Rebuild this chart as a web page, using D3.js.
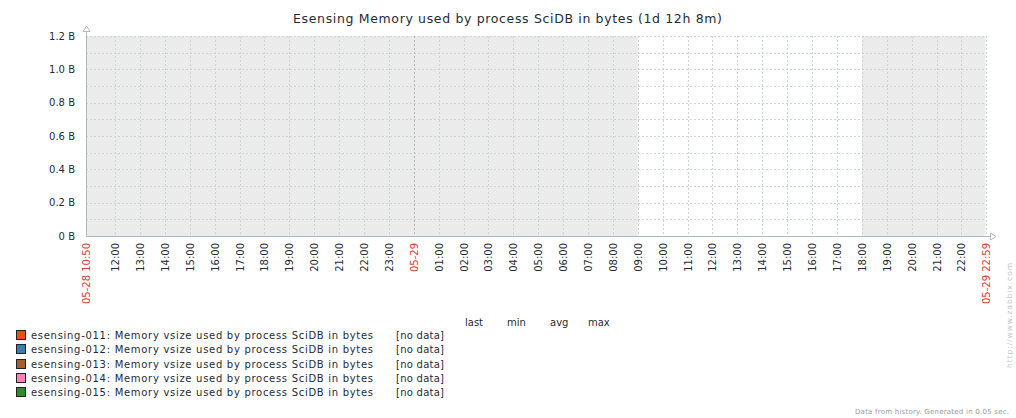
<!DOCTYPE html>
<html>
<head>
<meta charset="utf-8">
<script src="https://cdn.jsdelivr.net/npm/d3@7"></script>
<style>
  html, body { margin: 0; padding: 0; background: #fff; }
  svg { display: block; }
  text { font-family: "DejaVu Sans", sans-serif; }
</style>
</head>
<body>
<svg id="chart" width="1016" height="418"></svg>
<script>
// ---- data ----
const chartTitle = "Esensing Memory used by process SciDB in bytes (1d 12h 8m)";
const timeStart = new Date(2015, 4, 28, 10, 50);
const timeEnd = new Date(2015, 4, 29, 22, 58);
const startLabel = "05-28 10:50";
const endLabel = "05-29 22:59";
const yTicks = [0, 0.2, 0.4, 0.6, 0.8, 1.0, 1.2];
const yTickLabels = ["0 B", "0.2 B", "0.4 B", "0.6 B", "0.8 B", "1.0 B", "1.2 B"];
const yMinorGrid = [0.1, 0.3, 0.5, 0.7, 0.9, 1.1];
const nonWorkStarts = [new Date(2015, 4, 28, 10, 50), new Date(2015, 4, 29, 18, 0)];
const nonWorkEnds = [new Date(2015, 4, 29, 9, 0), new Date(2015, 4, 29, 22, 58)];
const seriesNames = [
  "esensing-011: Memory vsize used by process SciDB in bytes",
  "esensing-012: Memory vsize used by process SciDB in bytes",
  "esensing-013: Memory vsize used by process SciDB in bytes",
  "esensing-014: Memory vsize used by process SciDB in bytes",
  "esensing-015: Memory vsize used by process SciDB in bytes"
];
const seriesColors = ["#F24A1C", "#3B7DAD", "#A65E2E", "#F783B5", "#2C8A2C"];
const seriesStatus = ["[no data]", "[no data]", "[no data]", "[no data]", "[no data]"];
const legendColumns = ["last", "min", "avg", "max"];
const footerText = "Data from history. Generated in 0.05 sec.";
const watermark = "http://www.zabbix.com";

// ---- layout ----
const svg = d3.select("#chart");
const pLeft = 86, pRight = 985.5, pTop = 36, pBottom = 236;
const textColor = "#1F2C33", gridColor = "#CCD5D9", mainGrid = "#ACBBC2", red = "#E33734";

const x = d3.scaleTime().domain([timeStart, timeEnd]).range([pLeft, pRight]);
const y = d3.scaleLinear().domain([0, 1.2]).range([pBottom, pTop]);

// title
svg.append("text").attr("x", 293).attr("y", 22.5)
  .attr("font-size", 12.5).attr("fill", textColor)
  .attr("textLength", 429).attr("lengthAdjust", "spacing").text(chartTitle);

// non-work shading
svg.selectAll("rect.nonwork").data(nonWorkStarts).join("rect")
  .attr("class", "nonwork")
  .attr("x", (d) => x(d))
  .attr("y", pTop)
  .attr("width", (d, i) => x(nonWorkEnds[i]) - x(d))
  .attr("height", pBottom - pTop)
  .attr("fill", "#EBEBEB");

// horizontal grid (major + minor)
const hGrid = yTicks.filter(v => v > 0).concat(yMinorGrid);
svg.selectAll("line.hgrid").data(hGrid).join("line")
  .attr("x1", pLeft).attr("x2", pRight)
  .attr("y1", d => Math.round(y(d)) + 0.5).attr("y2", d => Math.round(y(d)) + 0.5)
  .attr("stroke", gridColor).attr("stroke-dasharray", "2,2");

// vertical grid every hour
const hours = d3.timeHour.range(d3.timeHour.ceil(new Date(+timeStart + 1)), timeEnd);
const xTicks = hours.filter(h => +h > +timeStart + 30 * 60000);
svg.selectAll("line.vgrid").data(xTicks).join("line")
  .attr("x1", d => Math.round(x(d)) + 0.5).attr("x2", d => Math.round(x(d)) + 0.5)
  .attr("y1", pTop).attr("y2", pBottom)
  .attr("stroke", d => d.getHours() === 0 ? mainGrid : gridColor)
  .attr("stroke-dasharray", "2,2");
svg.append("line").attr("x1", Math.round(pRight) + 0.5).attr("x2", Math.round(pRight) + 0.5)
  .attr("y1", pTop).attr("y2", pBottom).attr("stroke", gridColor).attr("stroke-dasharray", "2,2");

// axes
svg.append("line").attr("x1", pLeft + 0.5).attr("x2", pLeft + 0.5).attr("y1", pBottom + 0.5).attr("y2", 27)
  .attr("stroke", mainGrid);
svg.append("line").attr("x1", pLeft).attr("x2", 992).attr("y1", pBottom + 0.5).attr("y2", pBottom + 0.5)
  .attr("stroke", mainGrid);
svg.append("path").attr("d", `M${pLeft + 0.5},26 L${pLeft - 3},31.5 L${pLeft + 4},31.5 Z`)
  .attr("fill", "#fff").attr("stroke", mainGrid);
svg.append("path").attr("d", `M996,${pBottom + 0.5} L990.5,${pBottom - 3} L990.5,${pBottom + 4} Z`)
  .attr("fill", "#fff").attr("stroke", mainGrid);

// y labels
svg.selectAll("text.ylab").data(yTicks).join("text")
  .attr("x", 75).attr("y", d => y(d) + 3.5).attr("text-anchor", "end")
  .attr("font-size", 10).attr("fill", textColor)
  .text((d, i) => yTickLabels[i]);

// x labels
const fmtHour = d3.timeFormat("%H:%M"), fmtDay = d3.timeFormat("%m-%d");
function xLabel(t, txt, color) {
  svg.append("text")
    .attr("transform", `translate(${Math.round(x(t)) + 4},243) rotate(-90)`)
    .attr("text-anchor", "end").attr("font-size", 10).attr("fill", color).text(txt);
}
xTicks.forEach(t => {
  if (t.getHours() === 0) xLabel(t, fmtDay(t), red);
  else xLabel(t, fmtHour(t), textColor);
});
xLabel(timeStart, startLabel, red);
xLabel(timeEnd, endLabel, red);

// legend header
const colX = [465, 507, 550, 588];
svg.selectAll("text.lhead").data(legendColumns).join("text")
  .attr("x", (d, i) => colX[i]).attr("y", 326)
  .attr("font-size", 10).attr("fill", textColor).text(d => d);

// legend rows
const rowY = (i) => 335 + i * 14.3;
const rows = svg.selectAll("g.lrow").data(seriesNames).join("g");
rows.append("rect").attr("x", 16.5).attr("y", (d, i) => Math.round(rowY(i)) - 4.5)
  .attr("width", 9).attr("height", 9)
  .attr("fill", (d, i) => seriesColors[i]).attr("stroke", "#222").attr("stroke-width", 1);
rows.append("text").attr("x", 31).attr("y", (d, i) => rowY(i) + 4)
  .attr("font-size", 10).attr("fill", textColor)
  .attr("textLength", 342).attr("lengthAdjust", "spacing").text(d => d);
rows.append("text").attr("x", 396).attr("y", (d, i) => rowY(i) + 4)
  .attr("font-size", 10).attr("fill", textColor)
  .attr("textLength", 48).attr("lengthAdjust", "spacing").text((d, i) => seriesStatus[i]);

// footer
svg.append("text").attr("x", 855).attr("y", 414).attr("font-size", 7).attr("fill", "#9a9a9a")
  .attr("textLength", 154).attr("lengthAdjust", "spacing").text(footerText);

// watermark
svg.append("text").attr("transform", "translate(1012,368) rotate(-90)")
  .attr("font-family", "DejaVu Sans Mono").attr("font-size", 7.5).attr("fill", "#c4c4c4")
  .attr("textLength", 105).attr("lengthAdjust", "spacing").text(watermark);
</script>
</body>
</html>
